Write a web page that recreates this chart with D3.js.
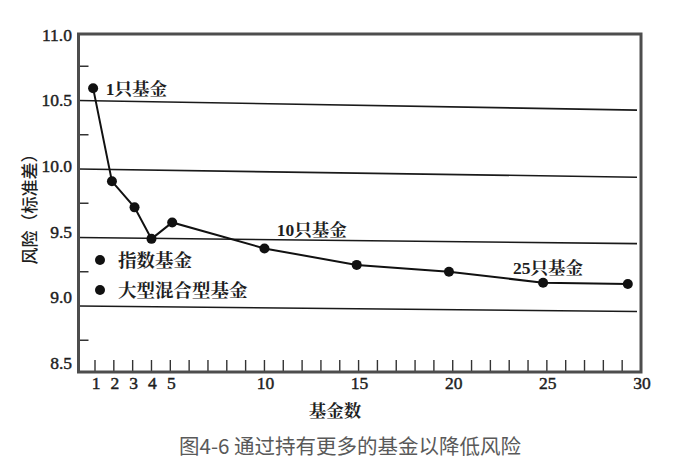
<!DOCTYPE html>
<html>
<head>
<meta charset="utf-8">
<script src="https://cdn.jsdelivr.net/npm/d3@7"></script>
<style>
  html, body { margin: 0; padding: 0; background: #ffffff; }
  svg { display: block; }
</style>
</head>
<body>
<svg id="chart" width="678" height="472"></svg>
<script>
// ---- data ----
const fundCounts   = [0.9, 1.9, 3.1, 4, 5.1, 10, 14.9, 19.8, 24.8, 29.3];
const riskValues   = [10.59, 9.91, 9.72, 9.49, 9.61, 9.42, 9.30, 9.25, 9.17, 9.16];
const yTickValues  = [8.5, 9.0, 9.5, 10.0, 10.5, 11.0];
const yTickLabels  = ["8.5", "9.0", "9.5", "10.0", "10.5", "11.0"];
const yMinorTicks  = [8.75, 9.25, 9.75, 10.25, 10.75];
const xTickLabels  = [1, 2, 3, 4, 5, 10, 15, 20, 25, 30];
const xMinorTicks  = d3.range(1, 30);
const gridLeftVals = [10.5, 10.0, 9.5, 9.0];
const gridRightVals= [10.43, 9.94, 9.455, 8.96];
const annotTexts   = ["1只基金", "10只基金", "25只基金"];
const annotX       = [1.57, 10.65, 23.2];
const annotY       = [10.54, 9.51, 9.234];
const legendLabels = ["指数基金", "大型混合型基金"];
const xTitle = "基金数";
const yTitle = "风险（标准差）";
const caption = "图4-6 通过持有更多的基金以降低风险";

// ---- layout ----
const frame = { left: 78.5, right: 641, top: 34, bottom: 372 };
const svg = d3.select("#chart");
const x = d3.scaleLinear().domain([1, 30]).range([95, 641]);
const y = d3.scaleLinear().domain([8.5, 11]).range([374.5, 32]);
const yLab = d3.scaleLinear().domain([8.5, 11]).range([363, 34.5]);

const SERIF = "Liberation Serif, Times New Roman, serif";
const MIXED = "Liberation Serif, Noto Serif CJK SC, serif";
const SONG = "Noto Serif CJK SC, Liberation Serif, serif";
const HEI = "Noto Sans CJK SC, sans-serif";
const INK = "#1e1e1e";

// gridlines (slightly skewed as in the printed figure)
svg.append("g").selectAll("line")
  .data(gridLeftVals.map((v, i) => [v, gridRightVals[i]]))
  .join("line")
  .attr("x1", frame.left).attr("x2", 637)
  .attr("y1", d => y(d[0])).attr("y2", d => y(d[1]))
  .attr("stroke", "#1a1a1a").attr("stroke-width", 1.6);

// y minor ticks
svg.append("g").selectAll("line").data(yMinorTicks).join("line")
  .attr("x1", frame.left).attr("x2", frame.left + 10)
  .attr("y1", d => y(d)).attr("y2", d => y(d))
  .attr("stroke", "#333").attr("stroke-width", 1.5);

// x ticks (inward)
svg.append("g").selectAll("line").data(xMinorTicks).join("line")
  .attr("x1", d => x(d)).attr("x2", d => x(d))
  .attr("y1", frame.bottom).attr("y2", frame.bottom - 12)
  .attr("stroke", "#333").attr("stroke-width", 1.4);

// frame
svg.append("rect")
  .attr("x", frame.left).attr("y", frame.top)
  .attr("width", frame.right - frame.left).attr("height", frame.bottom - frame.top)
  .attr("fill", "none").attr("stroke", "#4d4d4d").attr("stroke-width", 3);

// y tick labels
svg.append("g").selectAll("text").data(yTickValues).join("text")
  .style("font-family", SERIF)
  .attr("x", 72).attr("y", d => yLab(d) + 6)
  .attr("text-anchor", "end")
  .attr("font-size", 17.5)
  .attr("fill", INK).attr("stroke", INK).attr("stroke-width", 0.45)
  .text((d, i) => yTickLabels[i]);

// x tick labels
svg.append("g").selectAll("text").data(xTickLabels).join("text")
  .style("font-family", SERIF)
  .attr("x", d => x(d) + 1).attr("y", 389)
  .attr("text-anchor", "middle")
  .attr("font-size", 17.5)
  .attr("fill", INK).attr("stroke", INK).attr("stroke-width", 0.45)
  .text(d => d);

// axis titles
svg.append("text")
  .style("font-family", SONG)
  .attr("x", 335).attr("y", 417)
  .attr("text-anchor", "middle")
  .attr("font-size", 17.5).attr("font-weight", "bold")
  .attr("fill", INK)
  .text(xTitle);

svg.append("text")
  .style("font-family", HEI)
  .attr("transform", "translate(36,205) rotate(-90)")
  .attr("text-anchor", "middle")
  .attr("font-size", 17)
  .attr("font-weight", 500)
  .attr("fill", INK)
  .text(yTitle);

// line
const pts = fundCounts.map((d, i) => [d, riskValues[i]]);
svg.append("path")
  .datum(pts)
  .attr("d", d3.line().x(d => x(d[0])).y(d => y(d[1])))
  .attr("fill", "none").attr("stroke", "#111").attr("stroke-width", 2);

svg.append("g").selectAll("circle").data(pts).join("circle")
  .attr("cx", d => x(d[0])).attr("cy", d => y(d[1])).attr("r", 5)
  .attr("fill", "#111");

// annotations
svg.append("g").selectAll("text").data(annotTexts).join("text")
  .style("font-family", MIXED)
  .attr("x", (d, i) => x(annotX[i])).attr("y", (d, i) => y(annotY[i]))
  .attr("font-size", 17.5).attr("font-weight", "bold")
  .attr("fill", INK)
  .text(d => d);

// legend
const leg = svg.append("g").selectAll("g").data(legendLabels).join("g")
  .attr("transform", (d, i) => `translate(100,${260 + i * 30})`);
leg.append("circle").attr("r", 5).attr("fill", "#111");
leg.append("text").style("font-family", SONG).attr("x", 18).attr("y", 6.5)
  .attr("font-size", 18.5).attr("font-weight", "bold")
  .attr("fill", INK)
  .text(d => d);

// caption
svg.append("text")
  .style("font-family", HEI)
  .attr("x", 350).attr("y", 454)
  .attr("text-anchor", "middle")
  .attr("font-size", 20.5)
  .attr("fill", "#595959")
  .text(caption);
</script>
</body>
</html>
